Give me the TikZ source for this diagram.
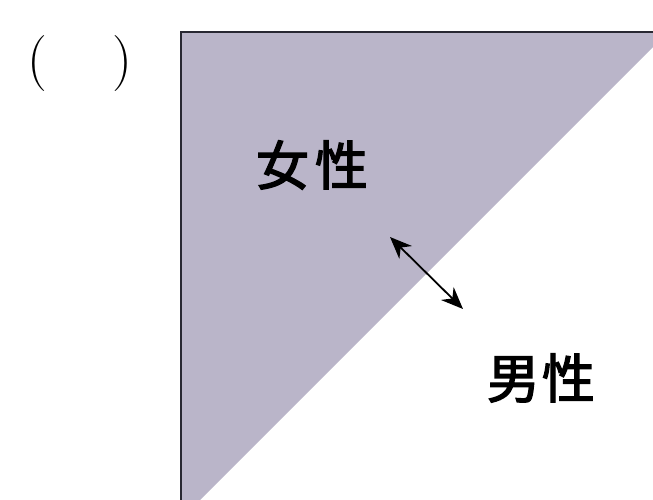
\documentclass[tikz,border=0pt]{standalone}
\usepackage{fontspec}
\usetikzlibrary{arrows.meta}
\newfontfamily\cjk[FakeBold=2.5]{Noto Sans CJK JP}
\definecolor{tricol}{RGB}{186,181,201}
\definecolor{edge}{RGB}{40,40,50}
\begin{document}
\begin{tikzpicture}[x=1pt,y=-1pt,
  lbl/.style={font=\cjk\fontsize{53}{58}\selectfont, inner sep=0pt},
  par/.style={font=\fontsize{56}{60}\selectfont, inner sep=0pt},
  tip/.style={Stealth[length=22pt,width=18pt,inset=7pt]}]
\useasboundingbox (0,0) rectangle (653,500);
\fill[tricol] (181,32) -- (668,32) -- (200,500) -- (181,500) -- cycle;
\fill[white] (653,0) rectangle (680,500);
\draw[edge, line width=2.2pt] (181,500) -- (181,32) -- (653,32);
\node[par] (lp) at (37,64) {(};
\node[par] (rp) at (122,64) {)};
\node[lbl] (f) at (312,165) {女\hspace{6pt}性};
\node[lbl] (m) at (541,378) {男\hspace{2pt}性};
\coordinate (a1) at (390,237);
\coordinate (a2) at (463,309);
\draw[line width=1.8pt, {Stealth[length=22pt,width=18pt,inset=7pt]}-{Stealth[length=22pt,width=18pt,inset=7pt]}] (a1) -- (a2);
\end{tikzpicture}
\end{document}
